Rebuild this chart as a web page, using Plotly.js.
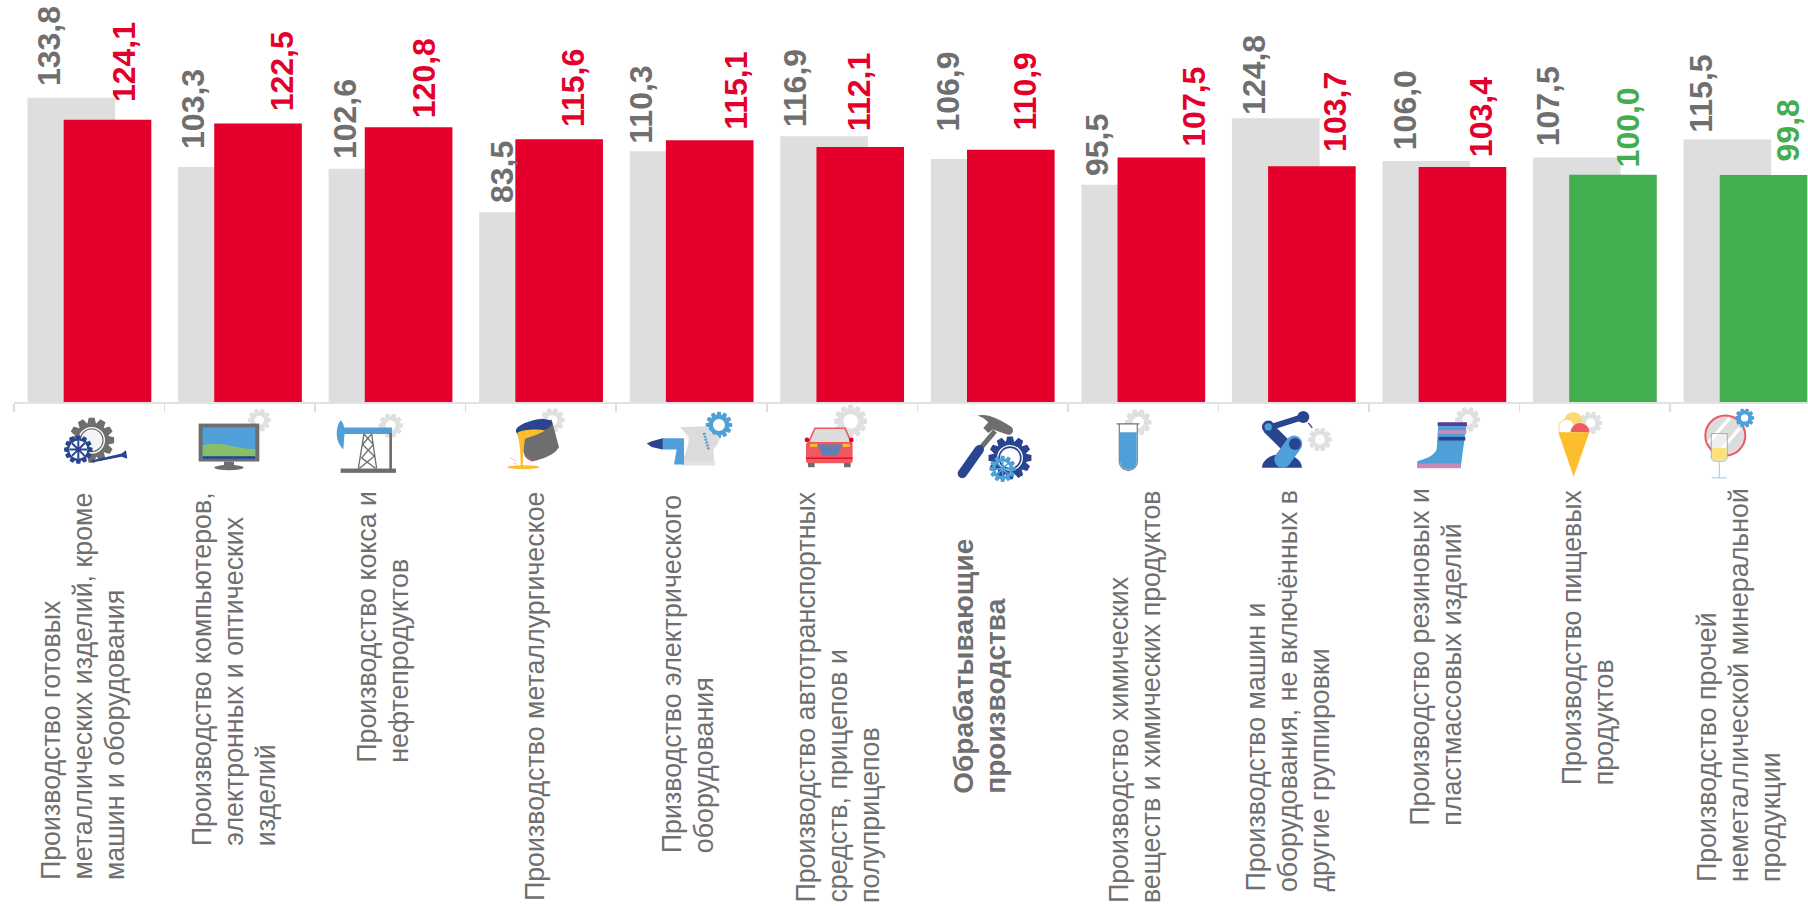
<!DOCTYPE html>
<html><head><meta charset="utf-8">
<script src="https://cdn.plot.ly/plotly-3.0.1.min.js"></script>
<style>html,body{margin:0;padding:0;background:#fff;overflow:hidden}#c{width:1808px;height:906px}</style>
</head><body><div id="c"></div>
<script>
const categories = [
 "Производство готовых<br>металлических изделий, кроме<br>машин и оборудования",
 "Производство компьютеров,<br>электронных и оптических<br>изделий",
 "Производство кокса и<br>нефтепродуктов",
 "Производство металлургическое",
 "Призводство электрического<br>оборудования",
 "Производство автотранспортных<br>средств, прицепов и<br>полуприцепов",
 "Обрабатывающие<br>производства",
 "Производство химических<br>веществ и химических продуктов",
 "Производство машин и<br>оборудования, не включённых в<br>другие группировки",
 "Производство резиновых и<br>пластмассовых изделий",
 "Производство пищевых<br>продуктов",
 "Производство прочей<br>неметаллической минеральной<br>продукции"
];
const previousValues = [133.8,103.3,102.6,83.5,110.3,116.9,106.9,95.5,124.8,106.0,107.5,115.5];
const currentValues  = [124.1,122.5,120.8,115.6,115.1,112.1,110.9,107.5,103.7,103.4,100.0,99.8];

const GREY='#dedede', RED='#e4002b', GREEN='#43ae4f', TXT='#6f6f6f';
const NAVY='#2a4590', BLUE='#4f9fd8', LG='#e0e0e0', DG='#6e6e6e', ROSE='#ef5a5f', YEL='#fdbd2c';

// label placement (px relative to each bar)
const prevShiftX=[-41,-47,-46,-39,-50,-47,-45,-46,-39,-39,-47,-44];
const currShiftX=[35,43,33,32,45,17,32,50,42,37,33,43];
const prevGap=[12,18,10,9,8,9,27,9,3,11,11,7];
const currGap=[18,12,9.5,12,11,16,19,11,14,10,7,14];
const catLabelX=[83,234,383.5,535,688,838,980,1134.5,1288,1436.5,1588,1739];
const catLabelBottom=[882,848,765,903,855,905,796,905,894,828,787,884];
const LINE_GAP=32, BOLD_INDEX=6;

const W=1808,H=906,L=14,BASE=402.4,PXU=2.276,CAT=150.55;
const yTop=BASE/PXU, xEnd=-0.5+(W-L)/CAT;
const fmt=v=>v.toFixed(1).replace('.',',');
const barColor=v=>v<=100?GREEN:RED;

function gear(cx,cy,R,r,n,hole,color){
  let d='';
  for(let i=0;i<n;i++){
    const a=i/n*2*Math.PI, s=Math.PI/n;
    const p=[[r,a-s*.95],[R,a-s*.5],[R,a+s*.5],[r,a+s*.95]];
    p.forEach((q,j)=>{d+=(i==0&&j==0?'M':'L')+(cx+q[0]*Math.cos(q[1])).toFixed(1)+' '+(cy+q[0]*Math.sin(q[1])).toFixed(1)+' ';});
  }
  d+='Z M'+(cx-hole)+' '+cy+' a'+hole+' '+hole+' 0 1 0 '+(2*hole)+' 0 a'+hole+' '+hole+' 0 1 0 '+(-2*hole)+' 0 Z';
  return `<path d="${d}" fill="${color}" fill-rule="evenodd"/>`;
}
const T=(x,y,s)=>`<g transform="translate(${x},${y}) scale(0.3333)">${s}</g>`;
const icons=[
 T(40,400,
  gear(155,122,68,52,12,32,DG)+
  `<circle cx="155" cy="122" r="38" fill="none" stroke="#fff" stroke-width="4"/><circle cx="155" cy="122" r="30" fill="#f4f4f4"/>`+
  `<path d="M150 184L245 162L258 152L262 178L245 172L160 188Z" fill="${NAVY}"/>`+
  gear(115,150,43,33,12,27,NAVY)+`<circle cx="115" cy="150" r="27" fill="#fff"/><path d="M115 122V178M88 150H142M96 131L134 169M134 131L96 169" stroke="${NAVY}" stroke-width="6"/>`+
  gear(658,62,35,26,10,14,LG)+
  `<rect x="476" y="72" width="182" height="114" fill="${DG}"/><rect x="488" y="83" width="158" height="95" fill="${BLUE}"/>`+
  `<path d="M488 138C540 120 590 150 646 148V178H488Z" fill="#86bf68"/><rect x="488" y="170" width="158" height="8" fill="${NAVY}"/>`+
  `<rect x="552" y="186" width="30" height="14" fill="${DG}"/><ellipse cx="567" cy="204" rx="44" ry="8" fill="${DG}"/>`+
  gear(1052,78,37,28,10,15,LG)+
  `<path d="M902 62C885 85 885 125 910 150C912 130 912 115 914 103H1056V84H912C912 75 908 68 902 62Z" fill="${BLUE}"/>`+
  `<rect x="1048" y="100" width="8" height="110" fill="${DG}"/><rect x="902" y="207" width="166" height="13" fill="${DG}"/>`+
  `<path d="M972 103L955 207M995 103L1010 207M972 103L1000 135L965 175L1007 207M995 103L968 135L1003 170L958 207" stroke="${DG}" stroke-width="4" fill="none"/>`),
 T(480,400,
  gear(217,62,37,28,10,16,LG)+
  `<path d="M110 98L215 60L237 143C225 165 190 178 160 185C150 185 140 178 135 170Z" fill="${DG}"/><ellipse cx="162" cy="82" rx="56" ry="20" transform="rotate(-14 162 82)" fill="${NAVY}"/>`+
  `<path d="M112 100C130 88 175 88 195 92C170 110 145 112 135 118C130 145 130 175 128 200H122C122 170 120 130 112 100Z" fill="${YEL}"/>`+
  `<ellipse cx="130" cy="203" rx="48" ry="6" fill="${YEL}"/><path d="M90 175L110 185M100 190L112 195M140 170L150 183M165 178L150 188" stroke="${ROSE}" stroke-width="2" stroke-opacity=".6"/>`+
  gear(717,76,40,30,12,18,BLUE)+
  `<path d="M600 83L680 80L700 105C725 105 725 125 700 150L703 187H606C618 160 628 130 626 112Z" fill="#dcdcdc"/><rect x="605" y="185" width="100" height="13" fill="#e2e2e2"/>`+
  `<path d="M672 100L686 150" stroke="${BLUE}" stroke-width="8" stroke-dasharray="6 3"/>`+
  `<path d="M546 116H612V195H582L590 150H546Z" fill="${BLUE}"/><path d="M500 132L515 125L548 116V150L515 142Z" fill="${NAVY}"/>`+
  gear(1112,65,50,38,12,22,LG)+
  `<path d="M985 130L1005 86H1095L1115 130Z" fill="#dcdcdc" stroke="${ROSE}" stroke-width="5"/><rect x="978" y="128" width="140" height="63" rx="8" fill="${ROSE}"/>`+
  `<path d="M1012 135H1088L1072 168H1028Z" fill="#5f7fb5"/><rect x="978" y="174" width="140" height="4" fill="${RED}"/>`+
  `<circle cx="981" cy="121" r="7" fill="${RED}"/><circle cx="1114" cy="121" r="7" fill="${RED}"/><rect x="990" y="133" width="22" height="9" fill="${YEL}"/><rect x="1088" y="133" width="22" height="9" fill="${YEL}"/>`+
  `<rect x="984" y="190" width="20" height="13" fill="${DG}"/><rect x="1092" y="190" width="20" height="13" fill="${DG}"/>`),
 T(920,400,
  `<path d="M225 95L178 150" stroke="${DG}" stroke-width="15"/><path d="M172 48C205 40 240 60 275 82C285 95 275 108 262 105L218 90L205 100L190 85L205 68C195 58 185 52 172 48Z" fill="${DG}"/>`+
  `<path d="M178 150L127 222" stroke="${NAVY}" stroke-width="28" stroke-linecap="round"/>`+
  gear(270,175,65,50,12,30,NAVY)+`<circle cx="270" cy="175" r="37" fill="none" stroke="#fff" stroke-width="4"/>`+
  gear(248,208,40,30,12,22,BLUE)+`<path d="M248 186V230M226 208H270M232 192L264 224M264 192L232 224" stroke="${BLUE}" stroke-width="5"/>`+
  gear(655,68,40,30,10,17,LG)+
  `<path d="M598 73V186A27 27 0 0 0 652 186V73" fill="#fff" stroke="#8a8a8a" stroke-width="4"/><path d="M600 98H650V186A25 25 0 0 1 600 186Z" fill="${BLUE}"/><path d="M590 73H658" stroke="${DG}" stroke-width="4"/>`+
  gear(1200,120,36,27,10,15,LG)+
  `<path d="M1026 205A60 42 0 0 1 1146 205Z" fill="${NAVY}"/><path d="M1045 85L1150 52" stroke="${NAVY}" stroke-width="18"/><circle cx="1150" cy="52" r="18" fill="${NAVY}"/><path d="M1165 70L1177 85" stroke="${NAVY}" stroke-width="4"/>`+
  `<path d="M1045 85L1110 150" stroke="${NAVY}" stroke-width="36"/><circle cx="1045" cy="82" r="19" fill="${NAVY}"/><circle cx="1045" cy="82" r="11" fill="${BLUE}"/>`+
  `<path d="M1088 180L1122 133" stroke="${BLUE}" stroke-width="50" stroke-linecap="round"/><circle cx="1125" cy="133" r="18" fill="${NAVY}"/>`),
 T(1300,380,
  gear(503,120,38,29,10,16,LG)+
  `<path d="M415 130H500L482 265H352V245C375 238 400 232 410 210Z" fill="${BLUE}"/>`+
  `<rect x="413" y="128" width="88" height="11" fill="#5b3a9a"/><rect x="415" y="152" width="84" height="11" fill="#c98ab5"/><rect x="416" y="172" width="80" height="11" fill="${NAVY}"/><path d="M352 252H482V266H352Z" fill="#c98ab5"/>`+
  gear(872,130,35,26,10,14,LG)+
  `<circle cx="820" cy="124" r="27" fill="#fbd977"/><circle cx="800" cy="143" r="24" fill="#fff" stroke="${YEL}" stroke-width="2"/><path d="M812 158A27 27 0 0 1 868 158Z" fill="${ROSE}"/><path d="M775 158H868L821 292Z" fill="${YEL}"/>`+
  `<circle cx="1276" cy="168" r="60" fill="#dcdcdc" stroke="${ROSE}" stroke-width="6"/><path d="M1225 190L1290 115M1260 215L1320 145" stroke="#fff" stroke-width="10"/>`+
  gear(1334,115,29,22,10,11,BLUE)+
  `<path d="M1234 162H1282V230Q1282 245 1268 245H1248Q1234 245 1234 230Z" fill="#fff" fill-opacity=".5" stroke="#7fb6e0" stroke-width="3"/><path d="M1236 205H1280V230Q1280 243 1268 243H1248Q1236 243 1236 230Z" fill="#fde07a"/>`+
  `<path d="M1258 245V295M1236 295H1280" stroke="#9cc7e8" stroke-width="3"/>`)
].join('');
const iconSvg=`<svg xmlns="http://www.w3.org/2000/svg" width="${W}" height="100" viewBox="0 400 ${W} 100">${icons}</svg>`;

const traces=[
 {type:'bar',x:categories,y:previousValues,width:0.582,offset:-0.41,marker:{color:GREY},hoverinfo:'none',showlegend:false},
 {type:'bar',x:categories,y:currentValues,width:0.582,offset:-0.17,marker:{color:currentValues.map(barColor)},hoverinfo:'none',showlegend:false}
];
const annotations=[];
const vlabel=(v,i,dx,gap,col)=>({x:i,y:v,xref:'x',yref:'y',text:'<b>'+fmt(v)+'</b>',textangle:-90,showarrow:false,
  xanchor:'center',yanchor:'bottom',xshift:dx,yshift:gap,borderpad:0,borderwidth:0,
  font:{family:'Liberation Sans, Arial, sans-serif',size:32,color:col}});
previousValues.forEach((v,i)=>annotations.push(vlabel(v,i,prevShiftX[i],prevGap[i],TXT)));
currentValues.forEach((v,i)=>annotations.push(vlabel(v,i,currShiftX[i],currGap[i],barColor(v))));
categories.forEach((c,i)=>{
  const lines=c.split('<br>');
  lines.forEach((line,j)=>annotations.push({
    x:(catLabelX[i]+(j-(lines.length-1)/2)*LINE_GAP-L)/(W-L),y:(BASE-catLabelBottom[i])/BASE,xref:'paper',yref:'paper',
    text:i===BOLD_INDEX?'<b>'+line+'</b>':line,textangle:-90,showarrow:false,
    xanchor:'center',yanchor:'bottom',borderpad:0,
    font:{family:'Liberation Sans, Arial, sans-serif',size:i===BOLD_INDEX?28:26.8,color:TXT}}));
});

const layout={
  width:W,height:H,margin:{l:L,r:0,t:0,b:H-BASE,pad:0},paper_bgcolor:'#fff',plot_bgcolor:'#fff',
  barmode:'overlay',showlegend:false,
  xaxis:{type:'category',range:[-0.5,xEnd],tickson:'boundaries',ticks:'outside',ticklen:8,tickwidth:1.5,tickcolor:'#dddddd',
    showticklabels:false,showgrid:false,zeroline:false,showline:true,linecolor:'#e2e2e2',linewidth:1.5,fixedrange:true},
  yaxis:{range:[0,yTop],visible:false,fixedrange:true},
  annotations,
  images:[{source:'data:image/svg+xml;charset=utf-8,'+encodeURIComponent(iconSvg),xref:'paper',yref:'paper',
    x:-L/(W-L),y:(BASE-400)/BASE,sizex:W/(W-L),sizey:100/BASE,xanchor:'left',yanchor:'top',sizing:'stretch',layer:'above'}]
};
Plotly.newPlot('c',traces,layout,{displayModeBar:false,staticPlot:true});
</script></body></html>
